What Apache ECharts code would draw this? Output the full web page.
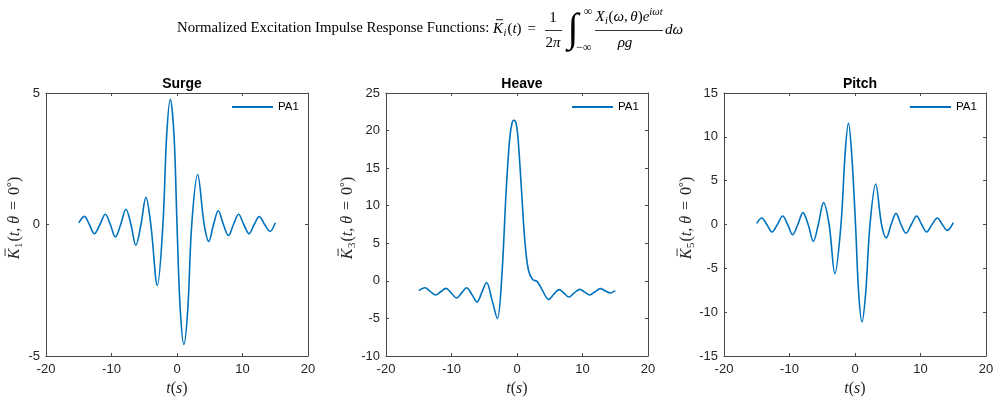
<!DOCTYPE html>
<html>
<head>
<meta charset="utf-8">
<script src="https://cdn.jsdelivr.net/npm/echarts@6/dist/echarts.min.js"></script>
<style>
html,body{margin:0;padding:0;background:#fff;}
#chart{width:996px;height:399px;}
</style>
</head>
<body>
<div id="chart"></div>
<script>
// ---- data ----
const panelTitles = ['Surge', 'Heave', 'Pitch'];
const legendName = 'PA1';
const xTicks = [-20, -10, 0, 10, 20];
const surgeYTicks = [-5, 0, 5];
const heaveYTicks = [-10, -5, 0, 5, 10, 15, 20, 25];
const pitchYTicks = [-15, -10, -5, 0, 5, 10, 15];
const yIndexLabels = ['1', '3', '5'];

const surgeT = [-15, -14.15, -13.38, -12.6, -11.77, -10.94, -10.18, -9.41, -8.6, -7.79, -7.03, -6.28, -5.5, -4.75, -4.0, -3.0, -2.15, -1.58, -1.02, -0.45, 0.0, 0.49, 1.05, 1.65, 2.25, 3.15, 4.15, 4.85, 5.58, 6.3, 7.08, 7.85, 8.62, 9.4, 10.2, 11.0, 11.78, 12.57, 13.38, 14.2, 15];
const surgeK = [0.06, 0.31, 0, -0.35, 0, 0.39, 0, -0.47, 0, 0.58, 0, -0.79, 0, 1.03, 0, -2.32, 0, 3.37, 4.76, 3.37, 0, -3.2, -4.56, -3.2, 0, 1.9, 0, -0.64, 0, 0.52, 0, -0.42, 0, 0.39, 0, -0.35, 0, 0.3, 0, -0.26, 0.07];

const heaveT = [-15, -14.05, -13.25, -12.43, -11.65, -10.85, -10.05, -9.23, -8.45, -7.7, -6.9, -6.1, -5.35, -4.65, -3.8, -3.0, -2.36, -1.65, -1.14, -0.79, -0.47, -0.12, 0.18, 0.69, 1.19, 1.75, 2.4, 3.1, 3.9, 4.82, 5.6, 6.42, 7.2, 7.92, 8.75, 9.58, 10.35, 11.1, 11.9, 12.73, 13.5, 14.25, 15];
const heaveK = [-1.31, -0.91, -1.4, -1.89, -1.45, -1.0, -1.6, -2.28, -1.6, -0.91, -1.8, -2.8, -1.5, -0.22, -2.6, -5.01, 0, 12.06, 18.7, 20.9, 21.37, 20.9, 18.7, 12.06, 5.4, 1.41, 0.17, -0.1, -1.3, -2.47, -1.8, -1.17, -1.65, -2.15, -1.6, -1.13, -1.5, -1.89, -1.45, -1.04, -1.35, -1.62, -1.31];

const pitchT = [-15, -14.25, -13.46, -12.67, -11.85, -11.04, -10.28, -9.52, -8.73, -7.94, -7.15, -6.36, -5.6, -4.8, -3.95, -3.07, -2.14, -1.5, -1.0, -0.52, 0.08, 0.56, 1.07, 1.63, 2.29, 3.16, 4.05, 4.78, 5.52, 6.26, 7.02, 7.79, 8.6, 9.41, 10.18, 10.94, 11.75, 12.57, 13.33, 14.1, 15];
const pitchK = [0.13, 0.74, 0, -0.86, 0, 0.97, 0, -1.16, 0, 1.35, 0, -1.92, 0, 2.5, 0, -5.6, 0, 8.2, 11.58, 8.2, 0, -7.8, -11.1, -7.8, 0, 4.62, 0, -1.54, 0, 1.27, 0, -1.0, 0, 0.97, 0, -0.86, 0, 0.74, 0, -0.67, 0.21];

// ---- helpers ----
const zip = (a, b) => a.map((v, i) => [v, b[i]]);
const SERIF = 'Liberation Serif';
const measureCtx = document.createElement('canvas').getContext('2d');
function fontStr(p, base) {
  return (p.i ? 'italic ' : '') + (p.size || base) + 'px "' + SERIF + '"';
}
// lay out a row of math pieces horizontally, centred on 0 (or left at 0)
function mathRow(pieces, base, color, centre) {
  let x = 0;
  const placed = [];
  pieces.forEach(p => {
    const f = fontStr(p, base);
    measureCtx.font = f;
    const w = measureCtx.measureText(p.t).width;
    x += p.pl || 0;
    placed.push({p, f, x, w});
    x += w + (p.pr || 0);
  });
  const off = centre ? -x / 2 : 0;
  const children = [];
  placed.forEach(o => {
    children.push({type: 'text', x: o.x + off, y: o.p.dy || 0,
      style: {text: o.p.t, font: o.f, fill: color, align: 'left', verticalAlign: 'middle'}});
    if (o.p.bar) {
      const by = -base * 0.62;
      children.push({type: 'line', shape: {x1: o.x + off + o.w * 0.3, y1: by, x2: o.x + off + o.w * 1.0, y2: by},
        style: {stroke: color, lineWidth: 0.9}});
    }
  });
  return children;
}

// ---- build chart ----
const seriesData = [zip(surgeT, surgeK), zip(heaveT, heaveK), zip(pitchT, pitchK)];
const yTickSets = [surgeYTicks, heaveYTicks, pitchYTicks];

const gridLefts = [46, 386, 724];
const gridW = 262, gridTop = 93, gridH = 263;
const axisColor = '#4a4a4a';
const textColor = '#262626';
const lineBlue = '#0072BD';
const yNameX = [15, 348, 687];
const yNameY = 218;

const grids = [], xAxes = [], yAxes = [], series = [], titles = [], legends = [], graphics = [];
for (let i = 0; i < 3; i++) {
  grids.push({left: gridLefts[i], top: gridTop, width: gridW, height: gridH,
    show: false, outerBoundsMode: 'none', containLabel: false});
  const yt = yTickSets[i];
  const yMin = yt[0], yMax = yt[yt.length - 1], yInt = yt[1] - yt[0];
  const xMin = xTicks[0], xMax = xTicks[xTicks.length - 1], xInt = xTicks[1] - xTicks[0];
  const common = {
    axisLine: {show: true, onZero: false, lineStyle: {color: axisColor, width: 1}},
    axisTick: {show: true, inside: true, length: 3, lineStyle: {color: axisColor, width: 1}},
    splitLine: {show: false}
  };
  xAxes.push(Object.assign({type: 'value', gridIndex: i, position: 'bottom', min: xMin, max: xMax, interval: xInt,
    axisLabel: {color: textColor, fontSize: 13, fontFamily: 'Liberation Sans', margin: 7},
    name: '{i|t}{n|(}{i|s}{n|)}', nameLocation: 'middle', nameGap: 25,
    nameTextStyle: {rich: {
      i: {fontFamily: SERIF, fontStyle: 'italic', fontSize: 16, color: textColor},
      n: {fontFamily: SERIF, fontSize: 16, color: textColor}}}
  }, common));
  xAxes.push(Object.assign({type: 'value', gridIndex: i, position: 'top', min: xMin, max: xMax, interval: xInt,
    axisLabel: {show: false}}, common));
  yAxes.push(Object.assign({type: 'value', gridIndex: i, position: 'left', min: yMin, max: yMax, interval: yInt,
    axisLabel: {color: textColor, fontSize: 13, fontFamily: 'Liberation Sans', margin: 6}}, common));
  yAxes.push(Object.assign({type: 'value', gridIndex: i, position: 'right', min: yMin, max: yMax, interval: yInt,
    axisLabel: {show: false}}, common));
  series.push({type: 'line', name: legendName, xAxisIndex: 2 * i, yAxisIndex: 2 * i,
    data: seriesData[i], showSymbol: false, symbol: 'none', smooth: 0.35,
    lineStyle: {color: lineBlue, width: 1.6}, itemStyle: {color: lineBlue}, animation: false});
  titles.push({text: panelTitles[i], left: gridLefts[i] + gridW / 2, top: 72, textAlign: 'center',
    textStyle: {fontSize: 14, fontWeight: 'bold', fontFamily: 'Liberation Sans', color: '#000'}});
  legends.push({data: [legendName], left: gridLefts[i] + gridW - 76, top: 101, icon: 'rect',
    itemWidth: 41, itemHeight: 2, itemGap: 4, selectedMode: false,
    textStyle: {fontSize: 11.5, fontFamily: 'Liberation Sans', color: '#000', padding: [0, 0, 0, 0]},
    padding: 0});
  // y-axis label as rotated math row
  const pieces = [
    {t: 'K', i: 1, bar: 1},
    {t: yIndexLabels[i], size: 11, dy: 4, pl: 0.5},
    {t: '(', pl: 1}, {t: 't', i: 1}, {t: ','},
    {t: '\u03b8', i: 1, pl: 4},
    {t: '=', pl: 6}, {t: '0', pl: 6}, {t: '\u00b0', size: 12, dy: -3}, {t: ')'}
  ];
  graphics.push({type: 'group', x: yNameX[i], y: yNameY, rotation: Math.PI / 2,
    children: mathRow(pieces, 16, textColor, true)});
}

// main title
const fs = 15;
graphics.push({type: 'text', left: 177, top: 21, style: {text: 'Normalized Excitation Impulse Response Functions:', font: '14.8px "' + SERIF + '"', fill: '#000'}});
graphics.push({type: 'group', x: 493, y: 29, children: mathRow([
  {t: 'K', i: 1, bar: 1}, {t: 'i', i: 1, size: 10.5, dy: 4, pl: 0.5},
  {t: '(', pl: 1}, {t: 't', i: 1}, {t: ')'}, {t: '=', pl: 6}
], fs, '#000', false)});
graphics.push({type: 'text', x: 553, y: 18, style: {text: '1', font: fs + 'px "' + SERIF + '"', fill: '#000', align: 'center', verticalAlign: 'middle'}});
graphics.push({type: 'group', x: 553, y: 43, children: mathRow([{t: '2'}, {t: '\u03c0', i: 1}], fs, '#000', true)});
graphics.push({type: 'line', shape: {x1: 545, y1: 30.5, x2: 562, y2: 30.5}, style: {stroke: '#000', lineWidth: 0.8}});
graphics.push({type: 'text', x: 573, y: 30, style: {text: '\u222b', font: 'italic 40px "' + SERIF + '"', fill: '#000', align: 'center', verticalAlign: 'middle'}});
graphics.push({type: 'text', x: 588, y: 12, style: {text: '\u221e', font: '12px "' + SERIF + '"', fill: '#000', align: 'center', verticalAlign: 'middle'}});
graphics.push({type: 'text', x: 584, y: 48, style: {text: '\u2212\u221e', font: '12px "' + SERIF + '"', fill: '#000', align: 'center', verticalAlign: 'middle'}});
graphics.push({type: 'group', x: 629, y: 17, children: mathRow([
  {t: 'X', i: 1}, {t: 'i', i: 1, size: 10.5, dy: 4, pl: 0.5}, {t: '(', pl: 0.5}, {t: '\u03c9', i: 1}, {t: ','},
  {t: '\u03b8', i: 1, pl: 2.5}, {t: ')'}, {t: 'e', i: 1}, {t: 'i\u03c9t', i: 1, size: 10.5, dy: -5}
], fs, '#000', true)});
graphics.push({type: 'line', shape: {x1: 595, y1: 30.5, x2: 663, y2: 30.5}, style: {stroke: '#000', lineWidth: 0.8}});
graphics.push({type: 'group', x: 625, y: 43, children: mathRow([{t: '\u03c1', i: 1}, {t: 'g', i: 1}], fs, '#000', true)});
graphics.push({type: 'group', x: 665, y: 30, children: mathRow([{t: 'd', i: 1}, {t: '\u03c9', i: 1}], fs, '#000', false)});

const chart = echarts.init(document.getElementById('chart'), null, {renderer: 'canvas'});
chart.setOption({
  backgroundColor: '#fff',
  animation: false,
  title: titles,
  legend: legends,
  grid: grids,
  xAxis: xAxes,
  yAxis: yAxes,
  series: series,
  graphic: graphics
});
</script>
</body>
</html>
